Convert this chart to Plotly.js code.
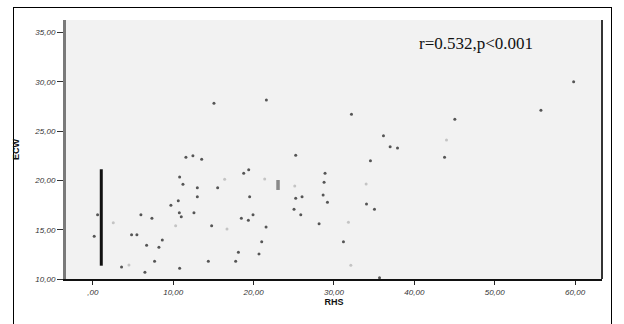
<!DOCTYPE html>
<html>
<head>
<meta charset="utf-8">
<script src="https://cdn.plot.ly/plotly-3.0.1.min.js"></script>
<style>
  html, body { margin: 0; padding: 0; background: #ffffff; }
  #frame { position: absolute; left: 13px; top: 7px; width: 599px; height: 330px; border: 1px solid #000; border-bottom: none; box-sizing: border-box; }
  #chart { position: absolute; left: 0; top: 0; width: 624px; height: 324px; }
</style>
</head>
<body>
<div id="frame"></div>
<div id="chart"></div>
<script>
// RHS (x) and ECW (y) values
const rhsMain = [15.07, 21.59, 32.18, 36.16, 36.99, 37.91, 59.82, 55.75, 45.04, 43.76,
  34.54, 34.05, 35.04, 31.18, 35.67, 0.59, 0.17, 11.58, 12.45, 13.54,
  18.77, 10.80, 11.21, 13.00, 15.53, 13.00, 10.63, 10.76, 12.58, 11.00,
  5.98, 7.35, 18.48, 14.78, 4.82, 5.48, 8.64, 6.69, 8.22, 18.11,
  7.68, 14.37, 17.77, 3.57, 10.80, 6.48, 25.24, 19.39, 28.89, 28.77,
  28.65, 25.24, 26.03, 29.19, 19.51, 25.03, 25.87, 19.93, 19.35, 28.15,
  21.55, 21.01, 20.67, 9.71];
const ecwMain = [27.82, 28.15, 26.70, 24.53, 23.42, 23.29, 30.01, 27.11, 26.20, 22.34,
  22.00, 17.61, 17.07, 13.78, 10.13, 16.52, 14.33, 22.34, 22.51, 22.14,
  20.72, 20.34, 19.60, 19.26, 19.26, 18.35, 17.94, 16.72, 16.72, 16.32,
  16.52, 16.16, 16.16, 15.41, 14.49, 14.49, 13.96, 13.42, 13.21, 12.71,
  11.79, 11.79, 11.79, 11.22, 11.09, 10.68, 22.55, 21.08, 20.72, 19.81,
  18.52, 18.18, 18.35, 17.78, 18.35, 17.07, 16.52, 16.52, 15.95, 15.61,
  15.27, 13.78, 12.54, 17.47];
const rhsFaint = [44.0, 34.0, 31.80, 32.1, 2.54, 16.40, 21.38, 25.12, 10.30, 16.69, 4.49];
const ecwFaint = [24.10, 19.63, 15.75, 11.4, 15.71, 20.11, 20.14, 19.43, 15.41, 15.07, 11.42];

// stacked-point bars seen in the picture
const barRhs = [1.05, 1.05];
const barEcw = [11.35, 21.13];
const smallBarRhs = [23.04, 23.04];
const smallBarEcw = [19.03, 20.04];

const xTickVals = [0, 10, 20, 30, 40, 50, 60];
const xTickText = [",00", "10,00", "20,00", "30,00", "40,00", "50,00", "60,00"];
const yTickVals = [10, 15, 20, 25, 30, 35];
const yTickText = ["10,00", "15,00", "20,00", "25,00", "30,00", "35,00"];
const statText = "r=0.532,p<0.001";

const traces = [
  { x: barRhs, y: barEcw, mode: "lines", line: { color: "#111", width: 3 }, hoverinfo: "skip" },
  { x: smallBarRhs, y: smallBarEcw, mode: "lines", line: { color: "#8a8a8a", width: 3.5 }, hoverinfo: "skip" },
  { x: rhsFaint, y: ecwFaint, mode: "markers", marker: { color: "#c4c4c4", size: 3 } },
  { x: rhsMain, y: ecwMain, mode: "markers", marker: { color: "#555555", size: 3 } }
];

const tickFont = { family: "Liberation Sans, Arial, sans-serif", size: 8, color: "#333", style: "italic" };

const layout = {
  width: 624, height: 324,
  margin: { l: 66, r: 22, t: 20, b: 45, pad: 0 },
  paper_bgcolor: "rgba(0,0,0,0)",
  plot_bgcolor: "#f2f2f2",
  showlegend: false,
  xaxis: {
    range: [-3.34, 63.35],
    tickvals: xTickVals, ticktext: xTickText,
    ticks: "outside", ticklen: 4, tickwidth: 1, tickcolor: "#222",
    showgrid: false, zeroline: false,
    showline: true, linecolor: "#111", linewidth: 2,
    tickfont: tickFont,
    title: { text: "RHS", font: { family: "Liberation Sans, Arial, sans-serif", size: 9, color: "#111", weight: "bold" }, standoff: 3 }
  },
  yaxis: {
    range: [10, 36.27],
    tickvals: yTickVals, ticktext: yTickText,
    ticks: "outside", ticklen: 6, tickwidth: 1, tickcolor: "#333",
    showgrid: false, zeroline: false,
    showline: true, linecolor: "#7a7a7a", linewidth: 3,
    tickfont: tickFont,
    title: { text: "ECW", font: { family: "Liberation Sans, Arial, sans-serif", size: 9, color: "#111", weight: "bold" }, standoff: 14 }
  },
  shapes: [
    { type: "line", xref: "paper", yref: "paper", x0: 1, x1: 1, y0: 0, y1: 1, line: { color: "#333", width: 2 } }
  ],
  annotations: [
    { text: statText, xref: "paper", yref: "paper", x: 0.765, y: 0.91, xanchor: "center", yanchor: "middle",
      showarrow: false, font: { family: "Liberation Serif, Times New Roman, serif", size: 17, color: "#111" } }
  ]
};

Plotly.newPlot("chart", traces, layout, { staticPlot: true, displayModeBar: false });
</script>
</body>
</html>
